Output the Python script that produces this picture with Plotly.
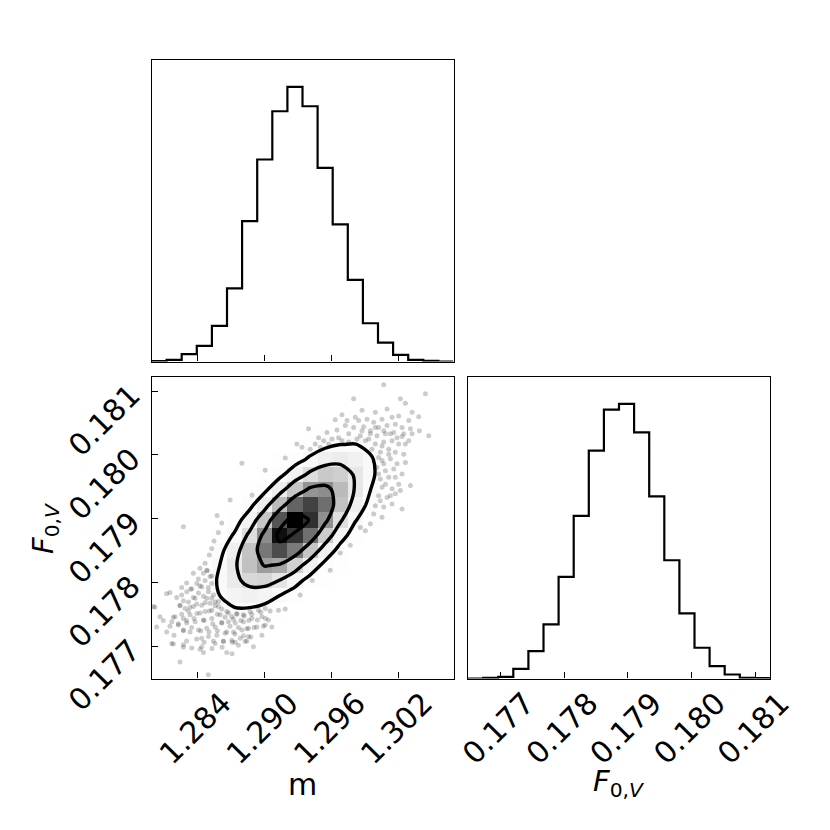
import numpy as np
import plotly.graph_objects as go

# ---------------- data ----------------
m_range = [1.27990, 1.30690]
f_range = [0.17649, 0.18123]
m_ticks = [1.284, 1.290, 1.296, 1.302]
f_ticks = [0.177, 0.178, 0.179, 0.180, 0.181]

# 1D histogram counts (20 bins across the axis range)
m_hist = [2, 10, 44, 94, 214, 440, 844, 1214, 1504, 1650, 1534, 1164, 824, 490, 230, 114, 40, 10, 4, 0]
f_hist = [0, 4, 10, 58, 164, 324, 608, 974, 1364, 1610, 1644, 1474, 1090, 708, 390, 184, 74, 24, 4, 2]

# 2D density (20x20, rows from highest F to lowest F, columns from low m to high m), relative to peak
dens_rows = [
    [0, 0, 0, 0, 0, 0, 0, 0, 0, 0, 0, 0, 0.1, 0.1, 0.2, 0.3, 0.2, 0.2, 0.1, 0.0],
    [0, 0, 0, 0, 0, 0, 0, 0, 0, 0, 0.0, 0.1, 0.3, 0.6, 0.8, 0.9, 0.7, 0.4, 0.2, 0.1],
    [0, 0, 0, 0, 0, 0, 0, 0, 0, 0.1, 0.3, 0.8, 1.5, 2.2, 2.5, 2.1, 1.4, 0.7, 0.2, 0.1],
    [0, 0, 0, 0, 0, 0, 0, 0, 0.1, 0.5, 1.4, 3.1, 5.1, 6.3, 5.9, 4.2, 2.2, 0.9, 0.3, 0.1],
    [0, 0, 0, 0, 0, 0, 0, 0.2, 0.7, 2.3, 5.4, 9.9, 13.4, 13.8, 10.7, 6.3, 2.8, 0.9, 0.2, 0.0],
    [0, 0, 0, 0, 0, 0.0, 0.2, 0.9, 3.1, 8.1, 16.1, 24.2, 27.4, 23.3, 15.0, 7.3, 2.7, 0.7, 0.2, 0.0],
    [0, 0, 0, 0, 0.0, 0.2, 0.9, 3.5, 10.1, 22.2, 36.7, 45.7, 43.0, 30.4, 16.3, 6.6, 2.0, 0.5, 0.1, 0.0],
    [0, 0, 0, 0.0, 0.1, 0.8, 3.4, 10.7, 25.9, 47.1, 64.6, 66.8, 52.1, 30.7, 13.6, 4.5, 1.2, 0.2, 0.0, 0],
    [0, 0, 0.0, 0.1, 0.6, 2.7, 9.6, 25.5, 51.1, 78.0, 86.0, 75.5, 48.9, 23.8, 8.8, 2.4, 0.5, 0.1, 0, 0],
    [0, 0, 0.1, 0.4, 1.9, 7.3, 21.3, 46.9, 82.0, 100.0, 90.0, 65.9, 35.3, 14.4, 4.4, 1.0, 0.2, 0.0, 0, 0],
    [0, 0.0, 0.2, 1.1, 4.7, 15.0, 36.4, 66.7, 97.0, 89.0, 75.1, 44.4, 19.8, 6.7, 1.7, 0.3, 0.1, 0, 0, 0],
    [0.0, 0.1, 0.5, 2.5, 9.0, 23.9, 48.2, 73.1, 83.8, 72.3, 47.1, 23.1, 8.6, 2.4, 0.5, 0.1, 0, 0, 0, 0],
    [0.0, 0.2, 1.2, 4.5, 13.3, 29.4, 49.2, 62.0, 58.9, 42.2, 22.8, 9.3, 2.9, 0.7, 0.1, 0, 0, 0, 0, 0],
    [0.1, 0.5, 1.9, 6.2, 15.2, 28.0, 38.8, 40.6, 32.0, 19.0, 8.5, 2.9, 0.7, 0.1, 0, 0, 0, 0, 0, 0],
    [0.2, 0.7, 2.5, 6.6, 13.4, 20.5, 23.6, 20.5, 13.4, 6.6, 2.5, 0.7, 0.2, 0.0, 0, 0, 0, 0, 0, 0],
    [0.2, 0.8, 2.5, 5.5, 9.2, 11.6, 11.1, 8.0, 4.4, 1.8, 0.6, 0.1, 0.0, 0, 0, 0, 0, 0, 0, 0],
    [0.2, 0.8, 1.9, 3.5, 4.8, 5.1, 4.0, 2.4, 1.1, 0.4, 0.1, 0.0, 0, 0, 0, 0, 0, 0, 0, 0],
    [0.2, 0.6, 1.1, 1.7, 2.0, 1.7, 1.1, 0.6, 0.2, 0.1, 0.0, 0, 0, 0, 0, 0, 0, 0, 0, 0],
    [0.1, 0.3, 0.5, 0.7, 0.6, 0.5, 0.3, 0.1, 0.0, 0, 0, 0, 0, 0, 0, 0, 0, 0, 0, 0],
    [0.1, 0.1, 0.2, 0.2, 0.2, 0.1, 0.0, 0, 0, 0, 0, 0, 0, 0, 0, 0, 0, 0, 0, 0],
]
contour_levels = [13.5, 32.5, 60.7, 91.0]

# individual samples visible outside the outer contour
m_pts = [
    1.28275, 1.28618, 1.28588, 1.28549, 1.28528, 1.28507, 1.28469, 1.28489, 1.28364, 1.28528,
    1.28409, 1.28304, 1.28260, 1.28340, 1.28424, 1.28498, 1.28155, 1.28215, 1.28275, 1.28364,
    1.28454, 1.28528, 1.28588, 1.28334, 1.28245, 1.28394, 1.28469, 1.28558, 1.28618, 1.28678,
    1.28752, 1.28818, 1.28886, 1.28967, 1.29051, 1.29125, 1.29185, 1.28185, 1.28260, 1.28319,
    1.28424, 1.28507, 1.28579, 1.28648, 1.28722, 1.28788, 1.28860, 1.28937, 1.29009, 1.28095,
    1.28155, 1.28230, 1.28304, 1.28370, 1.28460, 1.28537, 1.28618, 1.28692, 1.28767, 1.28842,
    1.28907, 1.28991, 1.28191, 1.28275, 1.28349, 1.28430, 1.28504, 1.28579, 1.28663, 1.28737,
    1.28812, 1.28878, 1.28304, 1.28394, 1.28460, 1.28543, 1.28633, 1.28713, 1.28842, 1.28185,
    1.28275, 1.28424, 1.28531, 1.28621, 1.28767, 1.28454, 1.28663, 1.28710, 1.28245, 1.28498,
    1.28125, 1.28021,
    1.30066, 1.30439, 1.29797, 1.30215, 1.30260, 1.29872, 1.29991, 1.30096, 1.30320, 1.29693,
    1.29842, 1.29917, 1.29976, 1.30051, 1.30141, 1.30200, 1.30290, 1.30379, 1.29633, 1.29723,
    1.29797, 1.29887, 1.29947, 1.30021, 1.30096, 1.30170, 1.30230, 1.30305, 1.30385, 1.30469,
    1.29394, 1.29484, 1.29559, 1.29648, 1.29753, 1.29857, 1.29932, 1.30006, 1.30081, 1.30156,
    1.30230, 1.30290, 1.29454, 1.29529, 1.29603, 1.29693, 1.29991, 1.30066, 1.30141, 1.30200,
    1.29335, 1.29409, 1.30036, 1.30111, 1.30170, 1.30245, 1.30051, 1.30126, 1.30185, 1.30260,
    1.30081, 1.30156, 1.30036, 1.30111, 1.30230, 1.30305, 1.30051, 1.30141, 1.30200, 1.30021,
    1.30096, 1.30170, 1.29991, 1.30066, 1.30141, 1.30230, 1.29976, 1.29947, 1.29902, 1.29857,
    1.30051, 1.29290,
    1.28006, 1.28036, 1.28066, 1.29678, 1.29588, 1.29767, 1.29427, 1.29319,
    1.28798, 1.28890, 1.28576, 1.28693, 1.29006, 1.29186,
    1.28424, 1.28454, 1.28484, 1.28514, 1.28469, 1.28529, 1.28439, 1.28395, 1.28350, 1.28305,
    1.28260, 1.28410, 1.28499, 1.28544, 1.28484, 1.28380, 1.28320, 1.28245, 1.28290, 1.28365,
    1.28439, 1.28514, 1.28559, 1.28589, 1.28529, 1.28469, 1.28395, 1.28335, 1.28275, 1.28201,
    1.28171, 1.28230, 1.28305, 1.28380, 1.28454, 1.28529, 1.28604, 1.28663, 1.28708, 1.28753,
    1.28812, 1.28872, 1.28947, 1.29007, 1.28678, 1.28618, 1.28559, 1.28484, 1.28410, 1.28335,
    1.28275, 1.28738, 1.28812, 1.28887, 1.28977, 1.29036, 1.29066, 1.29007, 1.28932, 1.28857,
    1.28798, 1.28723, 1.28648, 1.28574, 1.28499, 1.28439, 1.28559, 1.28633, 1.28708, 1.28783,
    1.28857, 1.28977, 1.28171, 1.28275, 1.28350, 1.28439, 1.28738, 1.28827, 1.28902, 1.28126,
    1.30021, 1.30066, 1.30021, 1.30081, 1.30126, 1.30036, 1.30006, 1.30170, 1.30215, 1.30111,
    1.29961, 1.29902, 1.29827, 1.29753, 1.29663, 1.29573, 1.29499, 1.30051, 1.29947, 1.29872,
    1.29812, 1.29738, 1.29991, 1.30066, 1.30126, 1.30185, 1.30260, 1.30320, 1.30245,
]
f_pts = [
    0.17887, 0.17893, 0.17878, 0.17865, 0.17853, 0.17843, 0.17830, 0.17818, 0.17814, 0.17810,
    0.17805, 0.17799, 0.17792, 0.17789, 0.17794, 0.17792, 0.17784, 0.17776, 0.17771, 0.17776,
    0.17778, 0.17775, 0.17770, 0.17761, 0.17763, 0.17766, 0.17768, 0.17763, 0.17758, 0.17752,
    0.17750, 0.17747, 0.17750, 0.17753, 0.17755, 0.17756, 0.17758, 0.17745, 0.17750, 0.17755,
    0.17752, 0.17755, 0.17750, 0.17745, 0.17742, 0.17740, 0.17740, 0.17741, 0.17743, 0.17740,
    0.17731, 0.17735, 0.17740, 0.17743, 0.17740, 0.17735, 0.17737, 0.17731, 0.17729, 0.17727,
    0.17729, 0.17731, 0.17717, 0.17724, 0.17729, 0.17724, 0.17722, 0.17724, 0.17722, 0.17719,
    0.17716, 0.17714, 0.17708, 0.17711, 0.17706, 0.17708, 0.17708, 0.17706, 0.17708, 0.17703,
    0.17698, 0.17695, 0.17696, 0.17698, 0.17701, 0.17690, 0.17690, 0.17688, 0.17675, 0.17655,
    0.17782, 0.17761,
    0.18110, 0.18096, 0.18088, 0.18088, 0.18081, 0.18070, 0.18067, 0.18072, 0.18067, 0.18063,
    0.18054, 0.18056, 0.18051, 0.18056, 0.18059, 0.18061, 0.18054, 0.18060, 0.18055, 0.18046,
    0.18043, 0.18044, 0.18038, 0.18043, 0.18046, 0.18048, 0.18043, 0.18041, 0.18038, 0.18030,
    0.18041, 0.18027, 0.18035, 0.18039, 0.18033, 0.18030, 0.18025, 0.18030, 0.18033, 0.18035,
    0.18029, 0.18022, 0.18017, 0.18022, 0.18025, 0.18022, 0.18017, 0.18020, 0.18022, 0.18017,
    0.18012, 0.18009, 0.18004, 0.18009, 0.18004, 0.18001, 0.17991, 0.17994, 0.17986, 0.17988,
    0.17975, 0.17978, 0.17962, 0.17965, 0.17970, 0.17952, 0.17949, 0.17947, 0.17954, 0.17936,
    0.17933, 0.17939, 0.17920, 0.17918, 0.17923, 0.17915, 0.17907, 0.17892, 0.17881, 0.17886,
    0.17902, 0.18017,
    0.17762, 0.17730, 0.17746, 0.17846, 0.17819, 0.17858, 0.17803, 0.17780,
    0.17987, 0.17937, 0.17905, 0.17929, 0.17976, 0.17995,
    0.17822, 0.17814, 0.17819, 0.17809, 0.17803, 0.17798, 0.17793, 0.17798, 0.17790, 0.17785,
    0.17780, 0.17783, 0.17785, 0.17780, 0.17775, 0.17775, 0.17769, 0.17764, 0.17759, 0.17762,
    0.17764, 0.17767, 0.17769, 0.17762, 0.17756, 0.17754, 0.17751, 0.17749, 0.17743, 0.17746,
    0.17738, 0.17733, 0.17736, 0.17738, 0.17741, 0.17743, 0.17749, 0.17754, 0.17746, 0.17751,
    0.17749, 0.17754, 0.17756, 0.17759, 0.17738, 0.17736, 0.17730, 0.17728, 0.17725, 0.17722,
    0.17725, 0.17736, 0.17738, 0.17743, 0.17746, 0.17741, 0.17730, 0.17733, 0.17730, 0.17728,
    0.17725, 0.17722, 0.17720, 0.17717, 0.17715, 0.17712, 0.17704, 0.17707, 0.17709, 0.17712,
    0.17715, 0.17717, 0.17704, 0.17702, 0.17697, 0.17699, 0.17706, 0.17707, 0.17699, 0.17722,
    0.17996, 0.17986, 0.17970, 0.17954, 0.17936, 0.17928, 0.17980, 0.17965, 0.17944, 0.18001,
    0.18009, 0.18022, 0.18025, 0.18020, 0.18027, 0.18017, 0.18012, 0.18014, 0.18033, 0.18038,
    0.18059, 0.18054, 0.18043, 0.18038, 0.18033, 0.18027, 0.18017, 0.18033, 0.18033,
]

m_label = "m"
f_label = "<i>F</i><sub>0,<i>V</i></sub>"

# ---------------- derived ----------------
nb = len(m_hist)
m_edges = np.linspace(m_range[0], m_range[1], nb + 1)
f_edges = np.linspace(f_range[0], f_range[1], nb + 1)
m_cent = 0.5 * (m_edges[:-1] + m_edges[1:])
f_cent = 0.5 * (f_edges[:-1] + f_edges[1:])
dens = np.array(dens_rows)[::-1]  # ascending F


def step_xy(edges, counts):
    xs = [edges[0]] + list(edges) + [edges[-1]]
    ys = [0] + list(counts) + [counts[-1], 0]
    return xs, ys


# page has an 8 px body margin: figure is 814 px and page pixel p maps to figure pixel p - 8
S = 814.0
OFF = 8.0


def fx(p):
    return (p - OFF) / S


def fy(p):
    return 1 - (p - OFF) / S


FONT = "DejaVu Sans"
TICKFONT = dict(family=FONT, size=30, color="black")
LEFT = [fx(151.5), fx(453.5)]
RIGHT = [fx(468.0), fx(770.0)]
TOP = [fy(361.5), fy(59.5)]
BOT = [fy(678.5), fy(376.5)]

fig = go.Figure()

# top histogram (m)
hx, hy = step_xy(m_edges, m_hist)
fig.add_trace(go.Scatter(x=hx, y=hy, mode="lines", line=dict(color="black", width=2.2, shape="hv"),
                         xaxis="x", yaxis="y", hoverinfo="skip"))

# density image (matplotlib-like transparent-to-black ramp, composited on white)
ts = np.linspace(0, 1, 21)
cscale = [[float(t), "rgb({0},{0},{0})".format(int(round(255 * (1 - t * t))))] for t in ts]
fig.add_trace(go.Heatmap(x=m_cent, y=f_cent, z=dens / dens.max(), zmin=0, zmax=1,
                         colorscale=cscale, showscale=False, xaxis="x2", yaxis="y2",
                         hoverinfo="skip", zsmooth=False))

# samples
fig.add_trace(go.Scatter(x=m_pts, y=f_pts, mode="markers",
                         marker=dict(size=5, color="rgba(0,0,0,0.2)", line=dict(width=0)),
                         xaxis="x2", yaxis="y2", hoverinfo="skip"))

# contours
for lev in contour_levels:
    fig.add_trace(go.Contour(x=m_cent, y=f_cent, z=dens, autocontour=False,
                             contours=dict(start=lev, end=lev, size=1, coloring="none"),
                             line=dict(color="black", width=3.4, smoothing=0.8),
                             showscale=False, xaxis="x2", yaxis="y2", hoverinfo="skip"))

# right histogram (F)
hx, hy = step_xy(f_edges, f_hist)
fig.add_trace(go.Scatter(x=hx, y=hy, mode="lines", line=dict(color="black", width=2.2, shape="hv"),
                         xaxis="x3", yaxis="y3", hoverinfo="skip"))

common = dict(showline=True, mirror=True, linecolor="black", linewidth=1.1, showgrid=False,
              zeroline=False, automargin=False, ticks="inside", ticklen=6, tickwidth=1.1,
              tickcolor="black", tickfont=TICKFONT)

fig.update_layout(
    width=int(S), height=int(S), template="none",
    margin=dict(l=0, r=0, t=0, b=0),
    paper_bgcolor="white", plot_bgcolor="white", showlegend=False,
    font=dict(family=FONT, color="black"),
    xaxis=dict(domain=LEFT, range=m_range, anchor="y", tickvals=m_ticks, showticklabels=False, **common),
    yaxis=dict(domain=TOP, range=[0, 1.1 * max(m_hist)], anchor="x", showticklabels=False,
               **{**common, "ticks": ""}),
    xaxis2=dict(domain=LEFT, range=m_range, anchor="y2", tickvals=m_ticks, tickformat=".3f",
                tickangle=-45, ticklabelshift=25, ticklabelstandoff=-6, **common),
    yaxis2=dict(domain=BOT, range=f_range, anchor="x2", tickvals=f_ticks, tickformat=".3f",
                tickangle=-45, ticklabelstandoff=13, **common),
    xaxis3=dict(domain=RIGHT, range=f_range, anchor="y3", tickvals=f_ticks, tickformat=".3f",
                tickangle=-45, ticklabelshift=25, ticklabelstandoff=-6, **common),
    yaxis3=dict(domain=BOT, range=[0, 1.1 * max(f_hist)], anchor="x3", showticklabels=False,
                **{**common, "ticks": ""}),
    annotations=[
        dict(text=m_label, xref="paper", yref="paper", x=fx(302.0), y=fy(784.0),
             xanchor="center", yanchor="middle", showarrow=False,
             font=dict(family=FONT, size=30, color="black")),
        dict(text=f_label, xref="paper", yref="paper", x=fx(619.0), y=fy(783.0),
             xanchor="center", yanchor="middle", showarrow=False,
             font=dict(family=FONT, size=29, color="black")),
        dict(text=f_label, xref="paper", yref="paper", x=fx(45.0), y=fy(528.0),
             xanchor="center", yanchor="middle", showarrow=False, textangle=-90,
             font=dict(family=FONT, size=29, color="black")),
    ],
)

fig.write_html("out.html")
